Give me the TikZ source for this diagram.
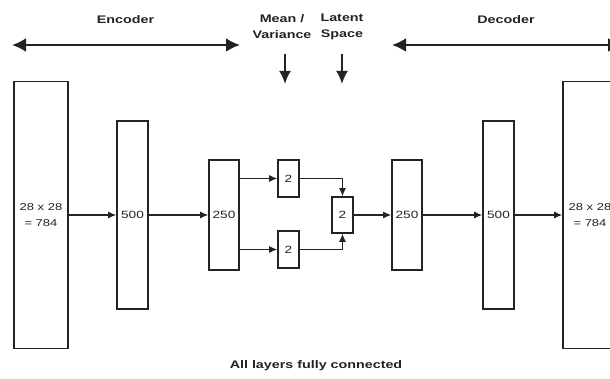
\documentclass[tikz,border=0pt]{standalone}
\usepackage{fontspec}
\setmainfont{Liberation Sans}[FakeStretch=1.3]
\usetikzlibrary{arrows.meta, positioning}
\definecolor{inkgray}{RGB}{35,35,35}
\tikzset{
  layer/.style = {draw=inkgray, line width=1.6pt, fill=white, inner sep=0pt,
                  font=\fontsize{10.5}{12}\selectfont, text=inkgray, align=center},
  conn/.style  = {-{Latex[length=8pt,width=7pt]}, line width=1.2pt, inkgray},
  span/.style  = {{Latex[length=14pt,width=14pt]}-{Latex[length=14pt,width=14pt]},
                  line width=2.4pt, inkgray},
  down/.style  = {-{Latex[length=13pt,width=12pt]}, line width=2.2pt, inkgray},
  head/.style  = {font=\bfseries\fontsize{11}{16}\selectfont, text=inkgray, align=center},
}
\begin{document}
\begin{tikzpicture}[x=1pt, y=-1pt]
  \useasboundingbox (0,0) rectangle (610,379);
  \clip (0,0) rectangle (610,379);

  % input / output layers
  \node[layer, minimum width=54pt, minimum height=267pt, font=\fontsize{10}{16}\selectfont]
    (in) at (41,215) {28 x 28\\= 784};
  \node[layer, minimum width=54pt, minimum height=267pt, font=\fontsize{10}{16}\selectfont]
    (out) at (590,215) {28 x 28\\= 784};

  % hidden layers
  \foreach \nm/\cx/\cy/\w/\h/\lbl in {enc500/132.5/215/31/188/500, enc250/224/215/30/110/250,
      mu/288.5/178.5/21/37/2, var/288.5/249.5/21/37/2, z/342.5/215/21/36/2,
      dec250/407/215/30/110/250, dec500/498.5/215/31/188/500} {
    \node[layer, minimum width=\w pt, minimum height=\h pt] (\nm) at (\cx,\cy) {\lbl};
  }

  % fully connected links
  \foreach \a/\b in {in/enc500, enc500/enc250, z/dec250, dec250/dec500, dec500/out}
    \draw[conn] (\a) -- (\b);
  \draw[conn] (enc250.east |- mu) -- (mu);
  \draw[conn] (enc250.east |- var) -- (var);
  \draw[conn] (mu) -| (z);
  \draw[conn] (var) -| (z);

  % headings
  \node[head] (enc) at (125.5,20) {Encoder};
  \node[head] (dec) at (506,20) {Decoder};
  \node[head] (mv) at (282,27) {Mean /\\Variance};
  \node[head] (ls) at (342,27) {Latent\\Space};
  \node[head] (note) at (316,366) {All layers fully connected};

  \coordinate (encL) at (12,45);
  \coordinate (encR) at (240,45);
  \coordinate (decL) at (392,45);
  \coordinate (decR) at (622,45);
  \coordinate (mvT) at (285,54);
  \coordinate (mvB) at (285,84);
  \coordinate (lsT) at (342,54);
  \coordinate (lsB) at (342,84);
  \draw[span] (encL) -- (encR);
  \draw[span] (decL) -- (decR);
  \draw[down] (mvT) -- (mvB);
  \draw[down] (lsT) -- (lsB);
\end{tikzpicture}
\end{document}
